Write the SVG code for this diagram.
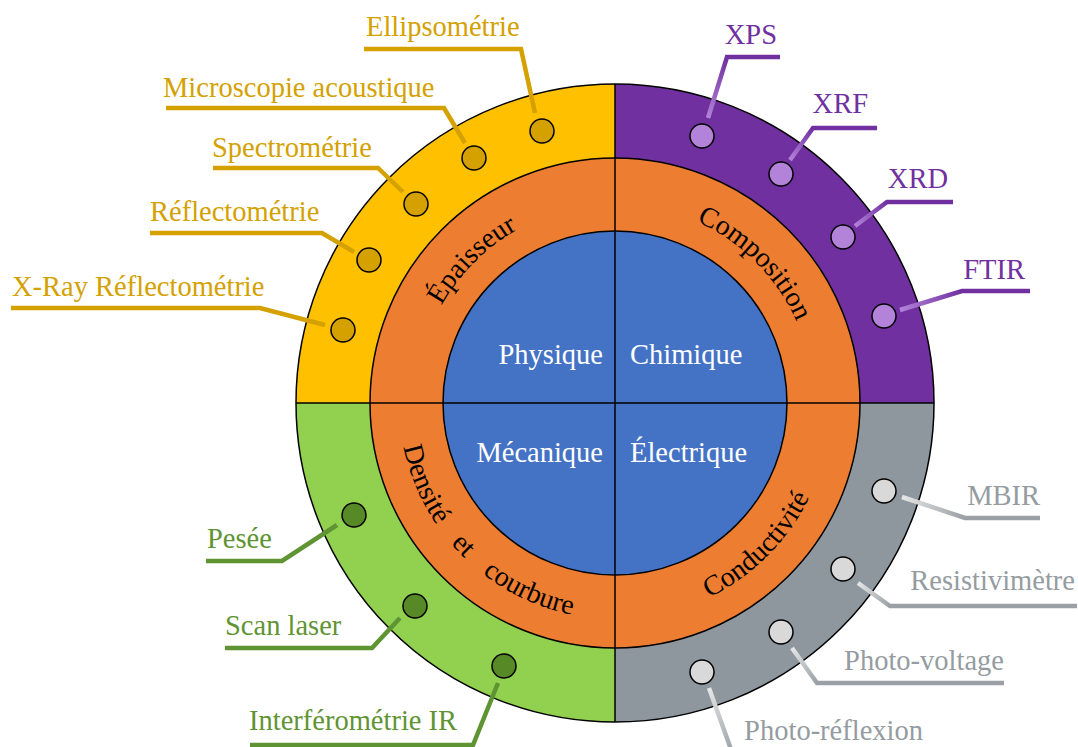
<svg xmlns="http://www.w3.org/2000/svg" width="1078" height="747" viewBox="0 0 1078 747">
<style>
  text { font-family: "Liberation Serif", "Times New Roman", serif; }
  .lbl { font-size: 28.5px; }
  .inner { font-size: 28.5px; fill: #ffffff; }
  .ring { font-size: 28px; fill: #000000; }
  .edge { stroke: #000; stroke-width: 1.5; }
  .dot { stroke: #000; stroke-width: 1.5; }
  .conn { fill: none; stroke-width: 4.5; stroke-linejoin: miter; }
  .y { fill: #D4A100; }
  .p { fill: #7030A0; }
  .g { fill: #5F9433; }
  .s { fill: #959CA1; }
</style>
<defs>
  <path id="arcTL" d="M416,403 A199,199 0 0 1 615,204"/>
  <path id="arcTR" d="M615,204 A199,199 0 0 1 814,403"/>
  <path id="arcBL" d="M399,403 A216,216 0 0 0 615,619"/>
  <path id="arcBR" d="M615,619 A216,216 0 0 0 831,403"/>
  <linearGradient id="gXPS" gradientUnits="userSpaceOnUse" x1="708" y1="118" x2="727" y2="57"><stop offset="0" stop-color="#B383D9"/><stop offset="1" stop-color="#7030A0"/></linearGradient>
  <linearGradient id="gXRF" gradientUnits="userSpaceOnUse" x1="790" y1="160" x2="813" y2="128"><stop offset="0" stop-color="#B383D9"/><stop offset="1" stop-color="#7030A0"/></linearGradient>
  <linearGradient id="gXRD" gradientUnits="userSpaceOnUse" x1="855" y1="226" x2="887" y2="202"><stop offset="0" stop-color="#B383D9"/><stop offset="1" stop-color="#7030A0"/></linearGradient>
  <linearGradient id="gFTIR" gradientUnits="userSpaceOnUse" x1="900" y1="310" x2="962" y2="291"><stop offset="0" stop-color="#B383D9"/><stop offset="1" stop-color="#7030A0"/></linearGradient>
  <linearGradient id="gMBIR" gradientUnits="userSpaceOnUse" x1="902" y1="497" x2="965" y2="518"><stop offset="0" stop-color="#E6E6E6"/><stop offset="1" stop-color="#9AA0A5"/></linearGradient>
  <linearGradient id="gRES" gradientUnits="userSpaceOnUse" x1="858" y1="583" x2="890" y2="606"><stop offset="0" stop-color="#E6E6E6"/><stop offset="1" stop-color="#9AA0A5"/></linearGradient>
  <linearGradient id="gPV" gradientUnits="userSpaceOnUse" x1="792" y1="648" x2="817" y2="683"><stop offset="0" stop-color="#E6E6E6"/><stop offset="1" stop-color="#9AA0A5"/></linearGradient>
  <linearGradient id="gPR" gradientUnits="userSpaceOnUse" x1="709" y1="688" x2="733" y2="755"><stop offset="0" stop-color="#E6E6E6"/><stop offset="1" stop-color="#9AA0A5"/></linearGradient>
</defs>

<g id="wheel">
  <path d="M615,403 L296,403 A319,319 0 0 1 615,84 Z" fill="#FFC000"/>
  <path d="M615,403 L615,84 A319,319 0 0 1 934,403 Z" fill="#7030A0"/>
  <path d="M615,403 L934,403 A319,319 0 0 1 615,722 Z" fill="#8F979E"/>
  <path d="M615,403 L615,722 A319,319 0 0 1 296,403 Z" fill="#92D050"/>
  <circle cx="615" cy="403" r="319" fill="none" class="edge"/>
  <circle cx="615" cy="403" r="245" fill="#ED7D31" class="edge"/>
  <circle cx="615" cy="403" r="172" fill="#4472C4" class="edge"/>
  <line x1="615" y1="84" x2="615" y2="722" class="edge"/>
  <line x1="296" y1="403" x2="934" y2="403" class="edge"/>
</g>

<g id="inner-labels">
  <text class="inner" x="603" y="364" text-anchor="end">Physique</text>
  <text class="inner" x="630" y="364">Chimique</text>
  <text class="inner" x="603" y="462" text-anchor="end">Mécanique</text>
  <text class="inner" x="630" y="462">Électrique</text>
</g>

<g id="ring-labels">
  <text class="ring"><textPath href="#arcTL" startOffset="50%" text-anchor="middle">Épaisseur</textPath></text>
  <text class="ring"><textPath href="#arcTR" startOffset="50%" text-anchor="middle">Composition</textPath></text>
  <text class="ring"><textPath href="#arcBL" startOffset="87" text-anchor="middle">Densité</textPath></text>
  <text class="ring"><textPath href="#arcBL" startOffset="163" text-anchor="middle">et</textPath></text>
  <text class="ring"><textPath href="#arcBL" startOffset="246" text-anchor="middle">courbure</textPath></text>
  <text class="ring"><textPath href="#arcBR" startOffset="50%" text-anchor="middle">Conductivité</textPath></text>
</g>

<g id="connectors">
  <path class="conn" stroke="#D4A100" d="M364,49 H521 L535,113"/>
  <path class="conn" stroke="#D4A100" d="M166,108 H444 L465,143"/>
  <path class="conn" stroke="#D4A100" d="M213,168 H378 L403,192"/>
  <path class="conn" stroke="#D4A100" d="M150,233 H322 L354,252"/>
  <path class="conn" stroke="#D4A100" d="M11,308 H260 L325,325"/>
  <path class="conn" stroke="url(#gXPS)" d="M708,118 L727,57 H780"/>
  <path class="conn" stroke="url(#gXRF)" d="M790,160 L813,128 H877"/>
  <path class="conn" stroke="url(#gXRD)" d="M855,226 L887,202 H953"/>
  <path class="conn" stroke="url(#gFTIR)" d="M900,310 L962,291 H1030"/>
  <path class="conn" stroke="url(#gMBIR)" d="M902,497 L965,518 H1040"/>
  <path class="conn" stroke="url(#gRES)" d="M858,583 L890,606 H1077"/>
  <path class="conn" stroke="url(#gPV)" d="M792,648 L817,683 H1004"/>
  <path class="conn" stroke="url(#gPR)" d="M709,688 L733,755 H923"/>
  <path class="conn" stroke="#5F9433" d="M206,561 H282 L337,525"/>
  <path class="conn" stroke="#5F9433" d="M225,648 H372 L400,618"/>
  <path class="conn" stroke="#5F9433" d="M250,745 H473 L498,683"/>
</g>

<g id="epaisseur-methods">
  <g id="n-ellipsometrie"><circle class="dot" cx="542" cy="131" r="12" fill="#D4A100"/><text class="lbl y" x="366" y="36">Ellipsométrie</text></g>
  <g id="n-microscopie"><circle class="dot" cx="474" cy="158" r="12" fill="#D4A100"/><text class="lbl y" x="163" y="97">Microscopie acoustique</text></g>
  <g id="n-spectrometrie"><circle class="dot" cx="416" cy="204" r="12" fill="#D4A100"/><text class="lbl y" x="212" y="157">Spectrométrie</text></g>
  <g id="n-reflectometrie"><circle class="dot" cx="369" cy="260" r="12" fill="#D4A100"/><text class="lbl y" x="150" y="221">Réflectométrie</text></g>
  <g id="n-xray"><circle class="dot" cx="343" cy="330" r="12" fill="#D4A100"/><text class="lbl y" x="12" y="296">X-Ray Réflectométrie</text></g>
</g>

<g id="composition-methods">
  <g id="n-xps"><circle class="dot" cx="702" cy="136" r="12" fill="#B383D9"/><text class="lbl p" x="777" y="44" text-anchor="end">XPS</text></g>
  <g id="n-xrf"><circle class="dot" cx="781" cy="174" r="12" fill="#B383D9"/><text class="lbl p" x="868" y="113" text-anchor="end">XRF</text></g>
  <g id="n-xrd"><circle class="dot" cx="843" cy="237" r="12" fill="#B383D9"/><text class="lbl p" x="948" y="188" text-anchor="end">XRD</text></g>
  <g id="n-ftir"><circle class="dot" cx="884" cy="316" r="12" fill="#B383D9"/><text class="lbl p" x="1025" y="279" text-anchor="end">FTIR</text></g>
</g>

<g id="conductivite-methods">
  <g id="n-mbir"><circle class="dot" cx="884" cy="491" r="12" fill="#D9D9D9"/><text class="lbl s" x="1040" y="505" text-anchor="end">MBIR</text></g>
  <g id="n-resistivimetre"><circle class="dot" cx="843" cy="569" r="12" fill="#D9D9D9"/><text class="lbl s" x="1075" y="590" text-anchor="end">Resistivimètre</text></g>
  <g id="n-photovoltage"><circle class="dot" cx="781" cy="632" r="12" fill="#D9D9D9"/><text class="lbl s" x="1004" y="670" text-anchor="end">Photo-voltage</text></g>
  <g id="n-photoreflexion"><circle class="dot" cx="702" cy="672" r="12" fill="#D9D9D9"/><text class="lbl s" x="923" y="740" text-anchor="end">Photo-réflexion</text></g>
</g>

<g id="densite-methods">
  <g id="n-pesee"><circle class="dot" cx="354" cy="515" r="12" fill="#578A26"/><text class="lbl g" x="207" y="548">Pesée</text></g>
  <g id="n-scanlaser"><circle class="dot" cx="415" cy="606" r="12" fill="#578A26"/><text class="lbl g" x="225" y="635">Scan laser</text></g>
  <g id="n-interferometrie"><circle class="dot" cx="504" cy="666" r="12" fill="#578A26"/><text class="lbl g" x="249" y="730">Interférométrie IR</text></g>
</g>
</svg>
